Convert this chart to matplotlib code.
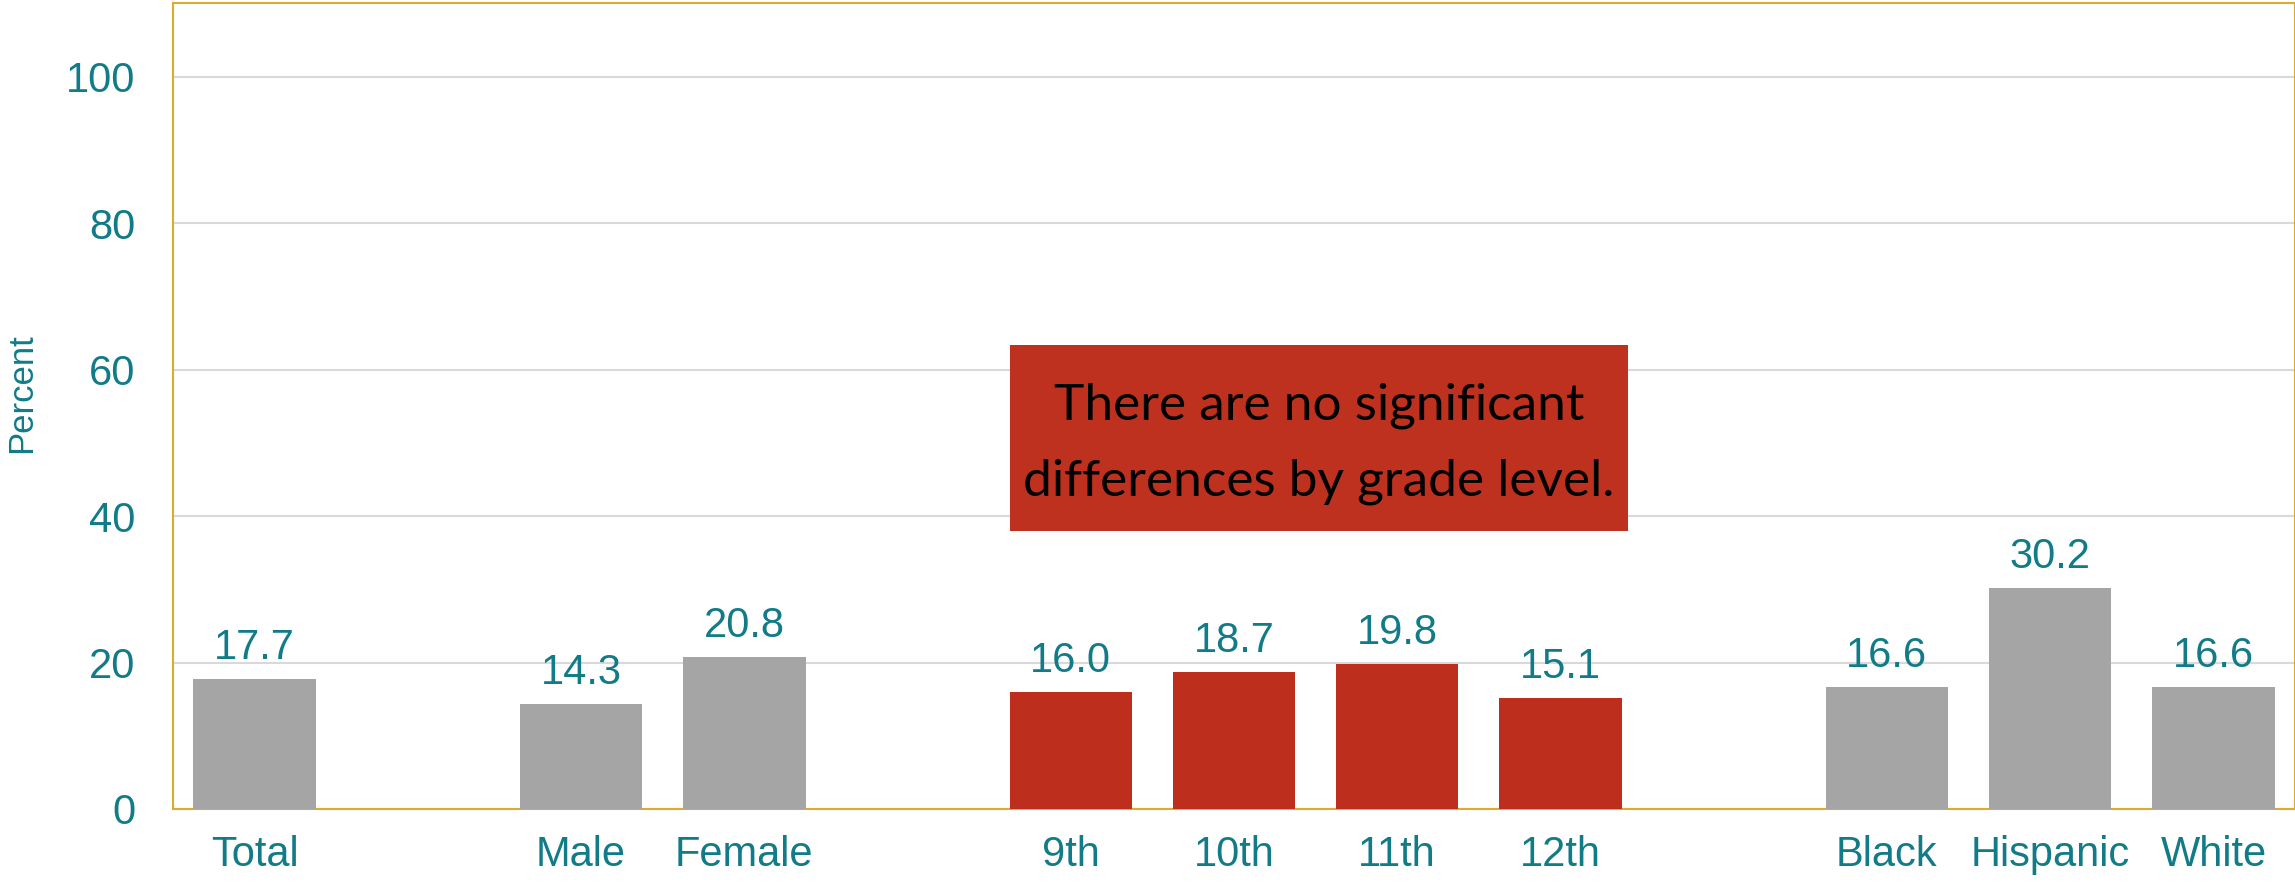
import matplotlib
matplotlib.use("Agg")
import matplotlib.pyplot as plt
from matplotlib.patches import Rectangle

# ---- data ----
labels = ["Total", "Male", "Female", "9th", "10th", "11th", "12th", "Black", "Hispanic", "White"]
values = [17.7, 14.3, 20.8, 16.0, 18.7, 19.8, 15.1, 16.6, 30.2, 16.6]
group_sizes = [1, 2, 4, 3]
group_colors = ["#A5A5A5", "#A5A5A5", "#BD2F1C", "#A5A5A5"]
yticks = [0, 20, 40, 60, 80, 100]
note_text = "There are no significant\ndifferences by grade level."

TEAL = "#117B88"
GOLD = "#E0AA2C"
GRID = "#D9D9D9"

# positions with a blank slot between groups
positions, colors = [], []
pos = 0
for size, col in zip(group_sizes, group_colors):
    for _ in range(size):
        positions.append(pos)
        colors.append(col)
        pos += 1
    pos += 1
n_slots = pos - 1

fig = plt.figure(figsize=(22.95, 8.83), dpi=100)
ax = fig.add_axes([173 / 2295, 1 - 809 / 883, 2122 / 2295, (809 - 3.5) / 883])

ax.bar(positions, values, width=0.75, color=colors, zorder=3)
for x, v in zip(positions, values):
    ax.annotate(f"{v:.1f}", (x, v), xytext=(0, 8), textcoords="offset points",
                ha="center", va="bottom", fontsize=30, color=TEAL,
                family="Liberation Sans", zorder=4)

ax.set_xlim(-0.5, n_slots - 0.5)
ax.set_ylim(0, 110)
ax.set_yticks(yticks)
ax.set_xticks(positions)
ax.set_xticklabels(labels)
ax.tick_params(axis="both", length=0, labelsize=30, labelcolor=TEAL)
ax.tick_params(axis="x", pad=19)
ax.tick_params(axis="y", pad=27)
for t in ax.get_xticklabels() + ax.get_yticklabels():
    t.set_family("Liberation Sans")

ax.grid(axis="y", color=GRID, linewidth=1.5, zorder=0)
ax.set_axisbelow(True)
for s in ax.spines.values():
    s.set_color(GOLD)
    s.set_linewidth(1.5)

# annotation box spanning the grade bars
gi = sum(group_sizes[:2])
gx0 = positions[gi] - 0.375
gx1 = positions[gi + 3] + 0.375 + 0.04
ax.add_patch(Rectangle((gx0, 37.9), gx1 - gx0, 63.4 - 37.9, facecolor="#BE311E",
                       edgecolor="none", zorder=5))
ax.text((gx0 + gx1) / 2, 49.9, note_text, ha="center", va="center",
        fontsize=37, color="black", family="Lato", linespacing=1.8, zorder=6)

fig.text(22 / 2295, 1 - 393 / 883, "Percent", rotation=90, ha="center", va="center",
         fontsize=25, color=TEAL, family="Liberation Sans")

fig.savefig("out.png", dpi=100)
